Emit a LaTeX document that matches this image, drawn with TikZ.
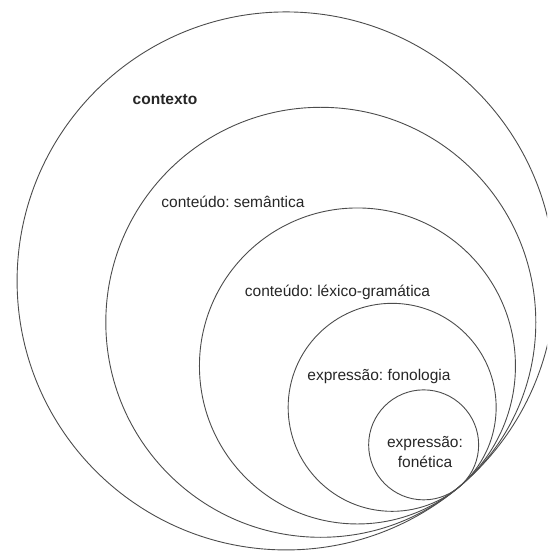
\documentclass[tikz,border=0pt]{standalone}
\usepackage{fontspec}
\setmainfont{Liberation Sans}
\usetikzlibrary{calc}
\frenchspacing

\begin{document}
\begin{tikzpicture}[x=1pt,y=1pt,
    circulo/.style={line width=0.9pt, draw=black!70},
    rotulo/.style={font=\fontsize{15.5}{20}\selectfont, text=black!85, align=center}]
    \useasboundingbox (0,0) rectangle (547,551);
    \clip (0,0) rectangle (547,551);
    \coordinate (tangente) at (459,64);
    \foreach \r in {269,215,158,104,55}
        \draw[circulo] ($(tangente)+(130:\r)$) circle (\r);
    \node[rotulo] (contexto) at (165,451) {\textbf{contexto}};
    \node[rotulo] (semantica) at (233,349) {conteúdo: semântica};
    \node[rotulo] (lexico) at (337.5,259) {conteúdo: léxico-gramática};
    \node[rotulo] (fonologia) at (379,175) {expressão: fonologia};
    \node[rotulo] (fonetica) at (425,99) {expressão:\\fonética};
\end{tikzpicture}
\end{document}
